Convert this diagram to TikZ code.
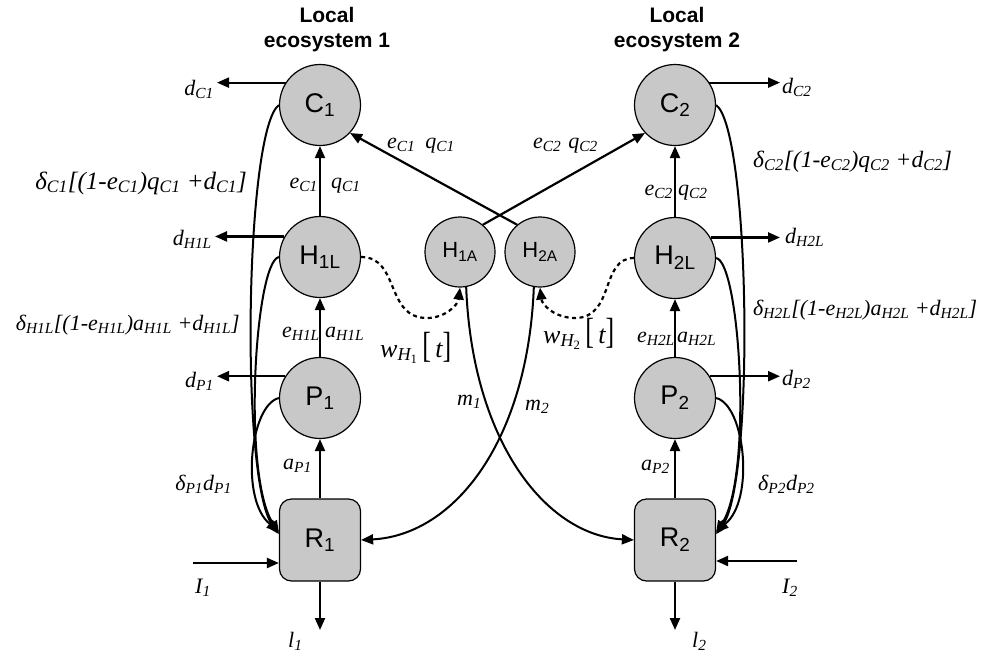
\documentclass[tikz,border=0pt]{standalone}
\usepackage{fontspec}
\usepackage{graphicx}
\setmainfont{Liberation Serif}
\setsansfont{Liberation Sans}
\usetikzlibrary{arrows.meta}
\definecolor{nodefill}{RGB}{200,200,200}
\newcommand\sbb[1]{\textsubscript{#1}}
\begin{document}
\begin{tikzpicture}[x=1pt,y=-1pt,
  circ/.style={circle, draw=black, line width=1.2pt, fill=nodefill, minimum size=81pt, inner sep=0pt, font=\sffamily\fontsize{27}{27}\selectfont},
  scirc/.style={circ, minimum size=70pt, font=\sffamily\fontsize{22}{22}\selectfont},
  rbox/.style={rectangle, rounded corners=12pt, draw=black, line width=1.2pt, fill=nodefill, minimum width=81pt, minimum height=82pt, inner sep=0pt, font=\sffamily\fontsize{27}{27}\selectfont},
  arr/.style={line width=2.2pt, -{Triangle[length=12pt,width=10pt]}},
  flow/.style={line width=2pt, -{Triangle[length=12pt,width=10pt]}},
  dsh/.style={line width=2.2pt, dash pattern=on 4pt off 3.5pt, -{Triangle[length=12pt,width=10pt]}},
  lbl/.style={font=\itshape\fontsize{22}{22}\selectfont, inner sep=0pt},
  wlbl/.style={font=\itshape\fontsize{26}{26}\selectfont, inner sep=0pt},
  ttl/.style={font=\sffamily\bfseries\fontsize{21}{25}\selectfont, align=center, inner sep=0pt}
]
\useasboundingbox (0,0) rectangle (985,654);

% titles
\node[ttl] (T1) at (327,29.5) {Local\\ecosystem 1};
\node[ttl] (T2) at (677,29.5) {Local\\ecosystem 2};

% nodes
\node[circ] (C1) at (320,105) {C\sbb{1}};
\node[circ] (H1L) at (320,257) {H\sbb{1L}};
\node[circ] (P1) at (320,398) {P\sbb{1}};
\node[rbox] (R1) at (320,540) {R\sbb{1}};
\node[circ] (C2) at (675,105) {C\sbb{2}};
\node[circ] (H2L) at (675,258) {H\sbb{2L}};
\node[circ] (P2) at (675,398) {P\sbb{2}};
\node[rbox] (R2) at (675,540) {R\sbb{2}};
\node[scirc] (H1A) at (460,252) {H\sbb{1A}};
\node[scirc] (H2A) at (540,252) {H\sbb{2A}};

% vertical flows
\draw[arr] (H1L) -- (C1);
\draw[arr] (P1) -- (H1L);
\draw[arr] (R1) -- (P1);
\draw[arr] (H2L) -- (C2);
\draw[arr] (P2) -- (H2L);
\draw[arr] (R2) -- (P2);

% diagonal flows
\draw[arr] (H2A.130) -- (C1.-43);
\draw[arr] (H1A.50) -- (C2.223);

% death arrows
\coordinate (tC1) at (217,83);
\coordinate (tH1) at (215,237);
\coordinate (tP1) at (217,377);
\coordinate (tC2) at (780,83);
\coordinate (tH2) at (780,235);
\coordinate (tP2) at (780,377);
\draw[arr] (C1.147) -- (C1.147 -| tC1);
\draw[arr] (H1L.150) -- (H1L.150 -| tH1);
\draw[arr] (P1.148) -- (P1.148 -| tP1);
\draw[arr] (C2.33) -- (C2.33 -| tC2);
\draw[arr] (H2L.30) -- (H2L.30 -| tH2);
\draw[arr] (P2.32) -- (P2.32 -| tP2);

% recycling loops
\draw[flow] (C1.west) .. controls (245,130) and (240,480) .. (R1.172);
\draw[flow] (H1L.west) .. controls (255,262) and (242,475) .. (R1.170);
\draw[flow] (P1.west) .. controls (250,405) and (240,500) .. (R1.168);
\draw[flow] (C2.east) .. controls (750,130) and (755,480) .. (R2.8);
\draw[flow] (H2L.east) .. controls (740,262) and (753,475) .. (R2.10);
\draw[flow] (P2.east) .. controls (745,405) and (755,500) .. (R2.12);

% dashed transitions
\draw[dsh] (H1L.east) .. controls (400,257) and (385,318) .. (427,318) .. controls (445,318) and (458,305) .. (H1A.south);
\draw[dsh] (H2L.west) .. controls (600,258) and (615,318) .. (575,318) .. controls (555,318) and (542,305) .. (H2A.south);

% migration
\draw[flow] (H1A.-80) .. controls (472,440) and (545,535) .. (R2.west);
\draw[flow] (H2A.-100) .. controls (528,440) and (455,535) .. (R1.east);

% inputs and losses
\coordinate (I1s) at (193,563);
\coordinate (I2s) at (797,561);
\coordinate (l1e) at (318,630);
\coordinate (l2e) at (679,630);
\draw[arr] (I1s) -- (I1s -| R1.west);
\draw[arr] (I2s) -- (I2s -| R2.east);
\draw[arr] (R1.south) -- (R1.south |- l1e);
\draw[arr] (R2.south) -- (R2.south |- l2e);

% labels left
\node[lbl, anchor=base east] (LdC1) at (214,95) {d\sbb{C1}};
\node[lbl, anchor=base east] (LdH1) at (212,245) {d\sbb{H1L}};
\node[lbl, anchor=base east] (LdP1) at (214,387) {d\sbb{P1}};
\node[lbl, anchor=base east, font=\itshape\fontsize{25}{25}\selectfont] (LsC1) at (247,189) {δ\sbb{C1}[(1-e\sbb{C1})q\sbb{C1} +d\sbb{C1}]};
\node[lbl, anchor=base east] (LsH1) at (240,330) {δ\sbb{H1L}[(1-e\sbb{H1L})a\sbb{H1L} +d\sbb{H1L}]};
\node[lbl, anchor=base east] (LsP1) at (232,490) {δ\sbb{P1}d\sbb{P1}};
\node[lbl, anchor=base east] (LeC1) at (318,188) {e\sbb{C1}};
\node[lbl, anchor=base west] (LqC1) at (331,188) {q\sbb{C1}};
\node[lbl, anchor=base east] (LeH1) at (320,337) {e\sbb{H1L}};
\node[lbl, anchor=base west] (LaH1) at (325,337) {a\sbb{H1L}};
\node[lbl, anchor=base east] (LaP1) at (312,469) {a\sbb{P1}};
\node[lbl, anchor=base west] (LI1) at (195,593) {I\sbb{1}};
\node[lbl, anchor=base west] (Ll1) at (288,647) {l\sbb{1}};

% labels right
\node[lbl, anchor=base west] (LdC2) at (782,93) {d\sbb{C2}};
\node[lbl, anchor=base west] (LdH2) at (785,243) {d\sbb{H2L}};
\node[lbl, anchor=base west] (LdP2) at (782,385) {d\sbb{P2}};
\node[lbl, anchor=base west, font=\itshape\fontsize{23.5}{23.5}\selectfont] (LsC2) at (753,167) {δ\sbb{C2}[(1-e\sbb{C2})q\sbb{C2} +d\sbb{C2}]};
\node[lbl, anchor=base west] (LsH2) at (753,315) {δ\sbb{H2L}[(1-e\sbb{H2L})a\sbb{H2L} +d\sbb{H2L}]};
\node[lbl, anchor=base west] (LsP2) at (758,490) {δ\sbb{P2}d\sbb{P2}};
\node[lbl, anchor=base east] (LeC2) at (673,195) {e\sbb{C2}};
\node[lbl, anchor=base west] (LqC2) at (678,195) {q\sbb{C2}};
\node[lbl, anchor=base east] (LeH2) at (675,342) {e\sbb{H2L}};
\node[lbl, anchor=base west] (LaH2) at (677,342) {a\sbb{H2L}};
\node[lbl, anchor=base east] (LaP2) at (670,470) {a\sbb{P2}};
\node[lbl, anchor=base west] (LI2) at (782,593) {I\sbb{2}};
\node[lbl, anchor=base west] (Ll2) at (692,647) {l\sbb{2}};

% centre labels
\node[lbl, anchor=base west] (LdiagA) at (387,148) {e\sbb{C1}\hspace{10pt}q\sbb{C1}};
\node[lbl, anchor=base west] (LdiagB) at (533,148) {e\sbb{C2}\hspace{7pt}q\sbb{C2}};
\node[wlbl, anchor=base west] (Lw1) at (380,357) {w\sbb{H\sbb{\upshape 1}}\,\scalebox{1}[1.4]{\upshape[}\,t\scalebox{1}[1.4]{\upshape]}};
\node[wlbl, anchor=base west] (Lw2) at (543,343) {w\sbb{H\sbb{\upshape 2}}\,\scalebox{1}[1.4]{\upshape[}\,t\scalebox{1}[1.4]{\upshape]}};
\node[lbl, anchor=base west] (Lm1) at (457,405) {m\sbb{1}};
\node[lbl, anchor=base west] (Lm2) at (525,410) {m\sbb{2}};
\end{tikzpicture}
\end{document}
